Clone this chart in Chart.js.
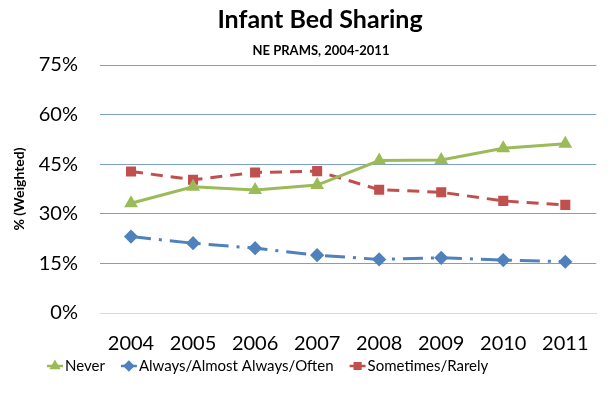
<!DOCTYPE html>
<html>
<head>
<meta charset="utf-8">
<title>Infant Bed Sharing</title>
<script src="https://cdn.jsdelivr.net/npm/chart.js@4.4.1/dist/chart.umd.min.js"></script>
<style>
    html, body { margin: 0; padding: 0; background: #fff; }
    #khung { position: relative; width: 608px; height: 393px; }
</style>
</head>
<body>
<div id="khung"><canvas id="bieuDo"></canvas></div>
<script>
// dữ liệu
const nam = ["2004", "2005", "2006", "2007", "2008", "2009", "2010", "2011"];
const never = [33.2, 38.2, 37.2, 38.7, 46.1, 46.3, 49.8, 51.2];
const always = [23.1, 21.1, 19.6, 17.5, 16.2, 16.7, 16.0, 15.5];
const sometimes = [42.8, 40.3, 42.5, 42.9, 37.3, 36.5, 33.9, 32.7];
const nhanTrucY = [0, 15, 30, 45, 60, 75];

const tieuDe = "Infant Bed Sharing";
const phuDe = "NE PRAMS, 2004-2011";
const FONT = "Lato, 'Open Sans', sans-serif";

// vẽ tiêu đề + chú thích (legend kiểu Excel: đường + điểm)
const veChu = {
    id: "veChu",
    afterDraw(chart) {
        const ctx = chart.ctx;
        ctx.save();
        ctx.fillStyle = "#000";
        ctx.textAlign = "center";
        ctx.textBaseline = "middle";
        ctx.font = "bold 25px " + FONT;
        ctx.fillText(tieuDe, 320, 20);
        ctx.font = "bold 13px " + FONT;
        ctx.fillText(phuDe, 321, 51);

        // chú thích
        ctx.font = "15px " + FONT;
        ctx.textAlign = "left";
        let x = 47;
        const y = 366;
        chart.data.datasets.forEach((ds) => {
            ctx.strokeStyle = ds.borderColor;
            ctx.lineWidth = 2.5;
            ctx.setLineDash([]);
            ctx.beginPath();
            ctx.moveTo(x, y);
            ctx.lineTo(x + 16, y);
            ctx.stroke();
            Chart.helpers.drawPoint(ctx, {
                pointStyle: ds.pointStyle,
                radius: 4,
                rotation: 0,
                borderWidth: 1,
            }, x + 8, y);
            ctx.fillStyle = ds.borderColor;
            ctx.fill();
            ctx.fillStyle = "#000";
            ctx.fillText(ds.label, x + 18, y);
            x += 18 + ctx.measureText(ds.label).width + 16;
        });
        ctx.restore();
    },
};

function veBieuDo() {
    new Chart(document.getElementById("bieuDo"), {
        type: "line",
        data: {
            labels: nam,
            datasets: [
                {
                    label: "Never",
                    data: never,
                    borderColor: "#9BBB59",
                    backgroundColor: "#9BBB59",
                    borderWidth: 3,
                    pointStyle: "triangle",
                    pointRadius: 5,
                    pointHoverRadius: 5,
                },
                {
                    label: "Always/Almost Always/Often",
                    data: always,
                    borderColor: "#4F81BD",
                    backgroundColor: "#4F81BD",
                    borderWidth: 3,
                    borderDash: [20, 8, 3, 8],
                    pointStyle: "rectRot",
                    pointRadius: 5,
                    pointHoverRadius: 5,
                },
                {
                    label: "Sometimes/Rarely",
                    data: sometimes,
                    borderColor: "#C0504D",
                    backgroundColor: "#C0504D",
                    borderWidth: 3,
                    borderDash: [12, 8],
                    pointStyle: "rect",
                    pointRadius: 5,
                    pointHoverRadius: 5,
                },
            ],
        },
        options: {
            responsive: true,
            maintainAspectRatio: false,
            animation: false,
            layout: { padding: { top: 65, right: 1, bottom: 18, left: 0 } },
            plugins: {
                legend: { display: false },
                title: { display: false },
                tooltip: { enabled: false },
            },
            scales: {
                x: {
                    offset: true,
                    grid: { display: false, drawTicks: false },
                    border: { display: true, color: "#D9D9D9", width: 1 },
                    ticks: {
                        color: "#000",
                        padding: 19,
                        maxRotation: 0,
                        font: { family: FONT, size: 20 },
                    },
                },
                y: {
                    min: 0,
                    max: 75,
                    afterFit: (scale) => {
                        scale.width = 100;
                    },
                    afterBuildTicks: (scale) => {
                        scale.ticks = nhanTrucY.map((v) => ({ value: v }));
                    },
                    grid: {
                        drawTicks: false,
                        color: (c) => (c.tick && c.tick.value === 0 ? "#D9D9D9" : "#7A9FD0"),
                        lineWidth: 1,
                    },
                    border: { display: false },
                    title: {
                        display: true,
                        text: "% (Weighted)",
                        color: "#000",
                        font: { family: FONT, size: 14, weight: "bold" },
                        padding: { top: 11, bottom: 0 },
                    },
                    ticks: {
                        color: "#000",
                        padding: 22,
                        font: { family: FONT, size: 20 },
                        callback: (value) => value + "%",
                    },
                },
            },
        },
        plugins: [veChu],
    });
}

document.addEventListener("DOMContentLoaded", veBieuDo);
</script>
</body>
</html>
